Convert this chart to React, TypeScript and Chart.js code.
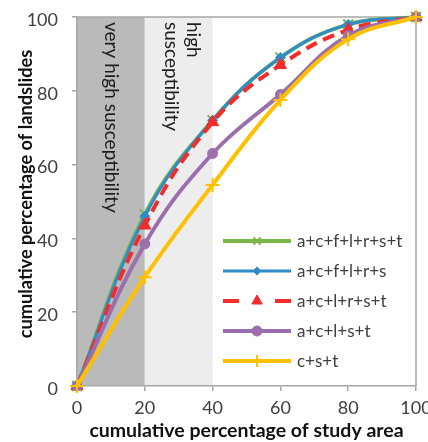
import React, { useEffect, useRef } from "react";
import { Chart, registerables } from "chart.js";
import { drawPoint } from "chart.js/helpers";

Chart.register(...registerables);

const xValues = [0, 20, 40, 60, 80, 100];
const seriesNames = ["a+c+f+l+r+s+t", "a+c+f+l+r+s", "a+c+l+r+s+t", "a+c+l+s+t", "c+s+t"];
const seriesGreen = [0, 46.5, 72, 89, 98, 100];
const seriesBlue = [0, 46, 72, 89, 98, 100];
const seriesRed = [0, 43.5, 71.5, 87, 96.5, 100];
const seriesPurple = [0, 38.5, 63, 79, 95, 100];
const seriesYellow = [0, 29.5, 54.5, 77.5, 94, 100];
const yTicks = [0, 20, 40, 60, 80, 100];
const bandLabels = [["very high susceptibility"], ["high", "susceptibility"]];
const xTitle = "cumulative percentage of study area";
const yTitle = "cumulative percentage of landslides";

const FONT = "Lato, 'Open Sans', sans-serif";
const AXIS_COLOR = "#a6a6a6";
const TEXT_COLOR = "#404040";

const styles = [
  { color: "#7ab648", point: "crossRot", radius: 7, legR: 5, pbw: 2, lw: 4, dash: [] as number[], order: 5 },
  { color: "#2f8cc8", point: "rectRot", radius: 5, legR: 4, pbw: 1, lw: 3, dash: [] as number[], order: 4 },
  { color: "#f22b2b", point: "triangle", radius: 7, legR: 6, pbw: 1, lw: 4, dash: [12, 7], order: 3 },
  { color: "#9b6fad", point: "circle", radius: 5, legR: 5, pbw: 1, lw: 4, dash: [] as number[], order: 2 },
  { color: "#ffc000", point: "cross", radius: 7, legR: 6, pbw: 2, lw: 4, dash: [] as number[], order: 1 },
];
const seriesData = [seriesGreen, seriesBlue, seriesRed, seriesPurple, seriesYellow];

const decorPlugin = {
  id: "decor",
  beforeDraw(chart: any) {
    const { ctx, chartArea, scales } = chart;
    const x = scales.x;
    const top = chartArea.top;
    const bottom = chartArea.bottom;
    ctx.save();
    ctx.fillStyle = "#bababa";
    ctx.fillRect(x.getPixelForValue(0), top, x.getPixelForValue(20) - x.getPixelForValue(0), bottom - top);
    ctx.fillStyle = "#ededed";
    ctx.fillRect(x.getPixelForValue(20), top, x.getPixelForValue(40) - x.getPixelForValue(20), bottom - top);
    ctx.fillStyle = "#1e1e1e";
    ctx.font = `19px ${FONT}`;
    ctx.textAlign = "left";
    ctx.textBaseline = "middle";
    const drawBand = (lines: string[], x0: number, x1: number, shift: number) => {
      const cx = (x0 + x1) / 2 + shift;
      const lh = 22;
      lines.forEach((t, i) => {
        const off = (lines.length - 1) / 2 * lh - i * lh;
        ctx.save();
        ctx.translate(cx + off, top + 5);
        ctx.rotate(Math.PI / 2);
        ctx.fillText(t, 0, 0);
        ctx.restore();
      });
    };
    drawBand(bandLabels[0], x.getPixelForValue(0), x.getPixelForValue(20), 0);
    drawBand(bandLabels[1], x.getPixelForValue(20), x.getPixelForValue(40), 3);
    ctx.strokeStyle = AXIS_COLOR;
    ctx.lineWidth = 1.5;
    ctx.beginPath();
    ctx.moveTo(chartArea.left, top);
    ctx.lineTo(chartArea.right, top);
    ctx.lineTo(chartArea.right, bottom);
    ctx.stroke();
    // y axis title
    ctx.fillStyle = "#111";
    ctx.font = `bold 18.2px ${FONT}`;
    ctx.textAlign = "center";
    ctx.textBaseline = "middle";
    ctx.save();
    ctx.translate(26, 194);
    ctx.rotate(-Math.PI / 2);
    ctx.fillText(yTitle, 0, 0);
    ctx.restore();
    ctx.restore();
  },
  afterDatasetsDraw(chart: any) {
    const { ctx } = chart;
    ctx.save();
    const x0 = 223;
    const x1 = 291;
    const y0 = 241;
    const step = 30;
    chart.data.datasets.forEach((ds: any, i: number) => {
      const st = styles[i];
      const y = y0 + i * step;
      ctx.strokeStyle = st.color;
      ctx.lineWidth = st.lw;
      ctx.setLineDash([]);
      ctx.beginPath();
      if (st.dash.length) {
        ctx.moveTo(x0, y);
        ctx.lineTo(x0 + 16, y);
        ctx.moveTo(x1 - 16, y);
        ctx.lineTo(x1, y);
      } else {
        ctx.moveTo(x0, y);
        ctx.lineTo(x1, y);
      }
      ctx.stroke();
      ctx.fillStyle = st.color;
      ctx.strokeStyle = st.color;
      ctx.lineWidth = st.pbw;
      drawPoint(ctx, { pointStyle: st.point as any, radius: st.legR, rotation: 0, borderWidth: st.pbw } as any, (x0 + x1) / 2, y);
      ctx.fillStyle = TEXT_COLOR;
      ctx.font = `17px ${FONT}`;
      ctx.textAlign = "left";
      ctx.textBaseline = "middle";
      ctx.fillText(ds.label, 297, y + 1);
    });
    ctx.restore();
  },
};

export default function App() {
  const ref = useRef<HTMLCanvasElement | null>(null);
  useEffect(() => {
    if (!ref.current) return;
    const chart = new Chart(ref.current, {
      type: "line",
      data: {
        labels: xValues,
        datasets: seriesNames.map((name, i) => ({
          label: name,
          data: xValues.map((xv, j) => ({ x: xv, y: seriesData[i][j] })),
          borderColor: styles[i].color,
          backgroundColor: styles[i].color,
          borderWidth: styles[i].lw,
          borderDash: styles[i].dash,
          pointStyle: styles[i].point as any,
          pointRadius: styles[i].radius,
          pointBorderWidth: styles[i].pbw,
          pointBorderColor: styles[i].color,
          pointBackgroundColor: styles[i].color,
          tension: 0.4,
          order: styles[i].order,
          clip: false as any,
          fill: false,
        })),
      },
      options: {
        animation: false,
        responsive: false,
        events: [],
        layout: { padding: { top: 17, right: 12, left: 0, bottom: 0 } },
        plugins: { legend: { display: false }, tooltip: { enabled: false } },
        scales: {
          x: {
            type: "linear",
            min: 0,
            max: 100,
            afterFit: (s: any) => { s.height = 56; s.paddingLeft = 0; s.paddingRight = 0; },
            border: { color: AXIS_COLOR, width: 1.5 },
            grid: { drawOnChartArea: false, drawTicks: true, tickLength: 5, color: AXIS_COLOR, lineWidth: 1.5 },
            ticks: { stepSize: 20, color: TEXT_COLOR, font: { family: FONT, size: 18 }, padding: 6, maxRotation: 0 },
            title: { display: true, text: xTitle, color: "#111", font: { family: FONT, size: 19.5, weight: "bold" }, padding: { top: 0, bottom: 0 } },
          },
          y: {
            type: "linear",
            min: 0,
            max: 100,
            afterFit: (s: any) => { s.width = 77; s.paddingTop = 0; s.paddingBottom = 0; },
            afterBuildTicks: (s: any) => { s.ticks = yTicks.map((v) => ({ value: v })); },
            border: { color: AXIS_COLOR, width: 1.5 },
            grid: { drawOnChartArea: false, drawTicks: true, tickLength: 5, color: AXIS_COLOR, lineWidth: 1.5 },
            ticks: { color: TEXT_COLOR, font: { family: FONT, size: 18 }, padding: 14, labelOffset: 3 },
            title: { display: false, text: yTitle },
          },
        },
      },
      plugins: [decorPlugin],
    });
    return () => chart.destroy();
  }, []);
  return (
    <div style={{ position: "fixed", left: 0, top: 0, width: 428, height: 442, background: "#fff" }}>
      <canvas ref={ref} width={428} height={442} style={{ display: "block", width: 428, height: 442 }} />
    </div>
  );
}
